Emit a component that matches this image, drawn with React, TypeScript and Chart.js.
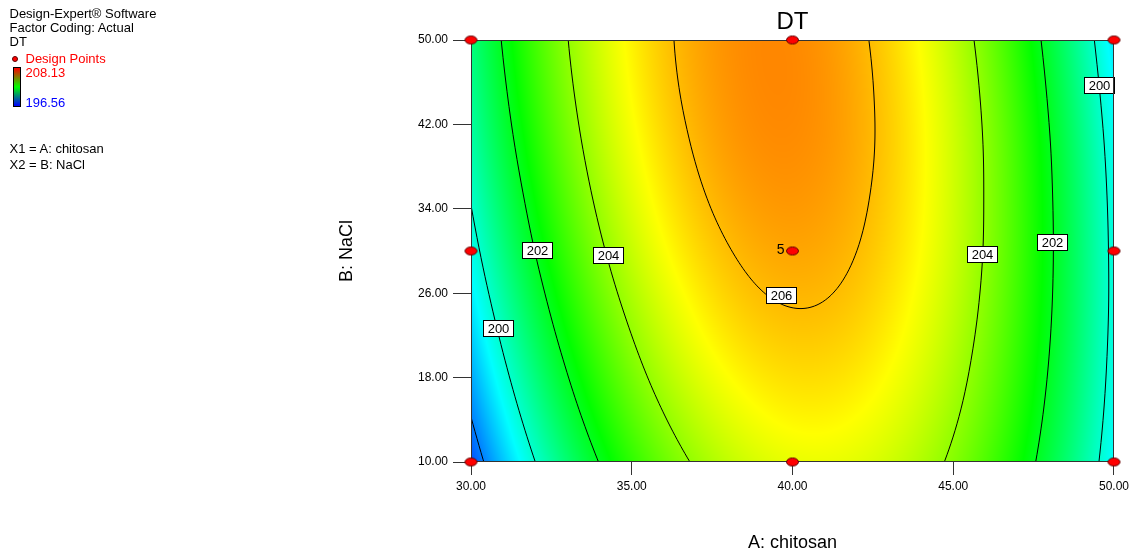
import React, { useEffect, useRef } from "react";
import { Chart, registerables } from "chart.js";

Chart.register(...registerables);

const FONT = '"Liberation Sans", Arial, Helvetica, sans-serif';

// ---- data ----
const chitosanNodes = [30, 32, 34, 36, 38, 40, 42, 44, 46, 48, 50];
const naclNodes = [10, 15, 20, 25, 30, 35, 40, 45, 50];
// DT response on the grid (rows: NaCl nodes, columns: chitosan nodes)
const dtGrid = [
  [197.45, 200.0, 202.03, 203.54, 204.52, 204.98, 204.92, 204.34, 203.23, 201.6, 199.45],
  [198.09, 200.6, 202.58, 204.04, 204.97, 205.39, 205.28, 204.65, 203.5, 201.82, 199.62],
  [198.67, 201.13, 203.06, 204.48, 205.37, 205.73, 205.58, 204.9, 203.7, 201.98, 199.73],
  [199.19, 201.6, 203.49, 204.85, 205.7, 206.02, 205.82, 205.09, 203.85, 202.08, 199.79],
  [199.65, 202.02, 203.86, 205.18, 205.97, 206.25, 206.0, 205.23, 203.94, 202.12, 199.78],
  [200.05, 202.37, 204.17, 205.44, 206.19, 206.42, 206.12, 205.3, 203.96, 202.1, 199.72],
  [200.4, 202.67, 204.42, 205.64, 206.35, 206.53, 206.19, 205.32, 203.94, 202.03, 199.6],
  [200.68, 202.91, 204.61, 205.79, 206.44, 206.58, 206.19, 205.28, 203.85, 201.89, 199.41],
  [200.91, 203.09, 204.74, 205.87, 206.48, 206.57, 206.14, 205.18, 203.7, 201.7, 199.17],
];
const colorRange = [196.56, 208.13];
const contourLevels = [198, 200, 202, 204, 206];
const contourLabelText = ["200", "202", "204", "206", "204", "202", "200"];
const contourLabelA = [30.84, 32.05, 34.26, 39.64, 45.89, 48.07, 49.53];
const contourLabelB = [22.7, 30.1, 29.6, 25.8, 29.7, 30.85, 45.7];
const designA = [30, 40, 50, 30, 40, 50, 30, 40, 50];
const designB = [10, 10, 10, 30, 30, 30, 50, 50, 50];
const designReps = [1, 1, 1, 1, 5, 1, 1, 1, 1];
const xTickValues = [30, 35, 40, 45, 50];
const yTickValues = [10, 18, 26, 34, 42, 50];
const legendHeader = ["Design-Expert\u00AE Software", "Factor Coding: Actual", "DT"];
const legendFactors = ["X1 = A: chitosan", "X2 = B: NaCl"];

// ---- helpers ----
function nodeSlope(nodes: number[], vals: number[], k: number): number {
  const n = nodes.length;
  if (k === 0) return (-3 * vals[0] + 4 * vals[1] - vals[2]) / (nodes[2] - nodes[0]);
  if (k === n - 1)
    return (3 * vals[n - 1] - 4 * vals[n - 2] + vals[n - 3]) / (nodes[n - 1] - nodes[n - 3]);
  return (vals[k + 1] - vals[k - 1]) / (nodes[k + 1] - nodes[k - 1]);
}

function smoothAt(nodes: number[], vals: number[], t: number): number {
  const n = nodes.length;
  let i = 0;
  while (i < n - 2 && t > nodes[i + 1]) i++;
  const x0 = nodes[i];
  const h = nodes[i + 1] - x0;
  let s = (t - x0) / h;
  if (s < 0) s = 0;
  if (s > 1) s = 1;
  const m0 = nodeSlope(nodes, vals, i) * h;
  const m1 = nodeSlope(nodes, vals, i + 1) * h;
  const s2 = s * s;
  const s3 = s2 * s;
  return (
    (2 * s3 - 3 * s2 + 1) * vals[i] +
    (s3 - 2 * s2 + s) * m0 +
    (-2 * s3 + 3 * s2) * vals[i + 1] +
    (s3 - s2) * m1
  );
}

const STOPS = [
  [0, 0, 255],
  [0, 255, 255],
  [0, 255, 0],
  [255, 255, 0],
  [255, 0, 0],
];
function colorFor(v: number): number[] {
  let t = (v - colorRange[0]) / (colorRange[1] - colorRange[0]);
  if (t < 0) t = 0;
  if (t > 1) t = 1;
  const p = t * (STOPS.length - 1);
  const k = Math.min(STOPS.length - 2, Math.floor(p));
  const f = p - k;
  const a = STOPS[k];
  const b = STOPS[k + 1];
  return [a[0] + (b[0] - a[0]) * f, a[1] + (b[1] - a[1]) * f, a[2] + (b[2] - a[2]) * f];
}

const surfacePlugin = {
  id: "surface",
  beforeDatasetsDraw(chart: any) {
    const { ctx, chartArea } = chart;
    const xs = chart.scales.x;
    const ys = chart.scales.y;
    const left = Math.round(chartArea.left);
    const top = Math.round(chartArea.top);
    const right = Math.round(chartArea.right);
    const bottom = Math.round(chartArea.bottom);
    const w = right - left;
    const h = bottom - top;

    const columnAt = (px: number) => {
      const a = xs.getValueForPixel(px);
      return dtGrid.map((row) => smoothAt(chitosanNodes, row, a));
    };

    // heat map
    const img = ctx.createImageData(w, h);
    const rowB: number[] = [];
    for (let j = 0; j < h; j++) rowB.push(ys.getValueForPixel(top + j + 0.5));
    for (let i = 0; i < w; i++) {
      const col = columnAt(left + i + 0.5);
      for (let j = 0; j < h; j++) {
        const v = smoothAt(naclNodes, col, rowB[j]);
        const c = colorFor(v);
        const idx = (j * w + i) * 4;
        img.data[idx] = c[0];
        img.data[idx + 1] = c[1];
        img.data[idx + 2] = c[2];
        img.data[idx + 3] = 255;
      }
    }
    ctx.putImageData(img, left, top);

    // contour lines
    const step = 2;
    const gx: number[] = [];
    for (let p = left; p < right; p += step) gx.push(p);
    gx.push(right);
    const gy: number[] = [];
    for (let p = top; p < bottom; p += step) gy.push(p);
    gy.push(bottom);
    const cols = gx.map((px) => columnAt(px));
    const bvals = gy.map((py) => ys.getValueForPixel(py));
    const vals = gy.map((_, j) => gx.map((__, i) => smoothAt(naclNodes, cols[i], bvals[j])));

    ctx.save();
    ctx.beginPath();
    ctx.rect(left, top, w, h);
    ctx.clip();
    ctx.beginPath();
    for (const L of contourLevels) {
      for (let j = 0; j < gy.length - 1; j++) {
        for (let i = 0; i < gx.length - 1; i++) {
          const v00 = vals[j][i];
          const v10 = vals[j][i + 1];
          const v01 = vals[j + 1][i];
          const v11 = vals[j + 1][i + 1];
          const pts: number[][] = [];
          if (v00 < L !== v10 < L)
            pts.push([gx[i] + ((gx[i + 1] - gx[i]) * (L - v00)) / (v10 - v00), gy[j]]);
          if (v10 < L !== v11 < L)
            pts.push([gx[i + 1], gy[j] + ((gy[j + 1] - gy[j]) * (L - v10)) / (v11 - v10)]);
          if (v01 < L !== v11 < L)
            pts.push([gx[i] + ((gx[i + 1] - gx[i]) * (L - v01)) / (v11 - v01), gy[j + 1]]);
          if (v00 < L !== v01 < L)
            pts.push([gx[i], gy[j] + ((gy[j + 1] - gy[j]) * (L - v00)) / (v01 - v00)]);
          if (pts.length >= 2) {
            ctx.moveTo(pts[0][0], pts[0][1]);
            ctx.lineTo(pts[1][0], pts[1][1]);
            if (pts.length === 4) {
              ctx.moveTo(pts[2][0], pts[2][1]);
              ctx.lineTo(pts[3][0], pts[3][1]);
            }
          }
        }
      }
    }
    ctx.strokeStyle = "#000";
    ctx.lineWidth = 1;
    ctx.stroke();
    ctx.restore();

    // contour labels
    ctx.save();
    ctx.font = `13px ${FONT}`;
    ctx.textAlign = "center";
    ctx.textBaseline = "middle";
    for (let k = 0; k < contourLabelText.length; k++) {
      const px = xs.getPixelForValue(contourLabelA[k]);
      const py = ys.getPixelForValue(contourLabelB[k]);
      const tw = ctx.measureText(contourLabelText[k]).width;
      const bw = Math.round(tw + 8);
      const bh = 16;
      const bx = Math.round(px - bw / 2) + 0.5;
      const by = Math.round(py - bh / 2) + 0.5;
      ctx.fillStyle = "#fff";
      ctx.fillRect(bx, by, bw, bh);
      ctx.strokeStyle = "#000";
      ctx.lineWidth = 1;
      ctx.strokeRect(bx, by, bw, bh);
      ctx.fillStyle = "#000";
      ctx.fillText(contourLabelText[k], bx + bw / 2, by + bh / 2 + 0.5);
    }
    ctx.restore();

    // frame
    ctx.save();
    ctx.strokeStyle = "#333";
    ctx.lineWidth = 1;
    ctx.strokeRect(left + 0.5, top + 0.5, w - 1, h - 1);
    ctx.restore();

    // replicate counts
    ctx.save();
    ctx.font = `14px ${FONT}`;
    ctx.textAlign = "right";
    ctx.textBaseline = "middle";
    ctx.fillStyle = "#000";
    for (let k = 0; k < designA.length; k++) {
      if (designReps[k] > 1) {
        const px = xs.getPixelForValue(designA[k]);
        const py = ys.getPixelForValue(designB[k]);
        ctx.fillText(String(designReps[k]), px - 8, py - 1);
      }
    }
    ctx.restore();
  },
};

function makeMarker(): HTMLCanvasElement {
  const c = document.createElement("canvas");
  c.width = 15;
  c.height = 11;
  const g = c.getContext("2d")!;
  g.beginPath();
  g.ellipse(7.5, 5.5, 6, 4, 0, 0, Math.PI * 2);
  g.fillStyle = "#ff0000";
  g.fill();
  g.strokeStyle = "#5a0000";
  g.lineWidth = 1;
  g.stroke();
  return c;
}

export default function App() {
  const ref = useRef<HTMLCanvasElement | null>(null);

  useEffect(() => {
    if (!ref.current) return;
    const marker = makeMarker();
    const tickFmt = (v: any) => Number(v).toFixed(2);
    const chart = new Chart(ref.current, {
      type: "scatter",
      data: {
        datasets: [
          {
            data: designA.map((a, i) => ({ x: a, y: designB[i] })),
            pointStyle: marker as any,
            pointRadius: 6,
            pointHoverRadius: 6,
            clip: false as any,
          },
        ],
      },
      plugins: [surfacePlugin],
      options: {
        animation: false,
        responsive: false,
        maintainAspectRatio: false,
        events: [],
        layout: { padding: { left: 300, right: 19, top: 0, bottom: 0 } },
        plugins: {
          legend: { display: false },
          tooltip: { enabled: false },
          title: {
            display: true,
            text: "DT",
            fullSize: false,
            color: "#000",
            font: { family: FONT, size: 24, weight: "normal" },
            padding: { top: 8, bottom: 3.2 },
          },
        },
        scales: {
          x: {
            type: "linear",
            min: 30,
            max: 50,
            afterBuildTicks: (s: any) => {
              s.ticks = xTickValues.map((v) => ({ value: v }));
            },
            afterFit: (s: any) => {
              s.height = 94;
            },
            ticks: {
              callback: tickFmt,
              color: "#000",
              font: { family: FONT, size: 12 },
              padding: 4,
              maxRotation: 0,
              autoSkip: false,
            },
            grid: { drawOnChartArea: false, drawTicks: true, tickLength: 13, color: "#333" },
            border: { display: false },
            title: {
              display: true,
              text: "A: chitosan",
              color: "#000",
              font: { family: FONT, size: 18 },
              padding: { top: 0, bottom: 2.2 },
            },
          },
          y: {
            type: "linear",
            min: 10,
            max: 50,
            afterBuildTicks: (s: any) => {
              s.ticks = yTickValues.map((v) => ({ value: v }));
            },
            afterFit: (s: any) => {
              s.width = 171;
            },
            ticks: {
              callback: tickFmt,
              color: "#000",
              font: { family: FONT, size: 12 },
              padding: 5,
              autoSkip: false,
            },
            grid: { drawOnChartArea: false, drawTicks: true, tickLength: 18, color: "#333" },
            border: { display: false },
            title: {
              display: true,
              text: "B: NaCl",
              color: "#000",
              font: { family: FONT, size: 18 },
              padding: { top: 36.2, bottom: 0 },
            },
          },
        },
      } as any,
    });
    return () => chart.destroy();
  }, []);

  const txt = (top: number, left: number, color = "#000"): React.CSSProperties => ({
    position: "absolute",
    top,
    left,
    fontSize: 13,
    lineHeight: "15px",
    color,
    whiteSpace: "nowrap",
  });

  return (
    <div
      style={{
        position: "fixed",
        left: 0,
        top: 0,
        width: 1133,
        height: 556,
        background: "#fff",
        fontFamily: FONT,
        overflow: "hidden",
      }}
    >
      <canvas ref={ref} width={1133} height={556} style={{ position: "absolute", left: 0, top: 0 }} />
      <div style={txt(5.5, 9.5)}>{legendHeader[0]}</div>
      <div style={txt(19.8, 9.5)}>{legendHeader[1]}</div>
      <div style={txt(34.3, 9.5)}>{legendHeader[2]}</div>
      <div
        style={{
          position: "absolute",
          left: 12.3,
          top: 55.5,
          width: 6,
          height: 6,
          borderRadius: "50%",
          background: "#ff0000",
          border: "1px solid #5a0000",
          boxSizing: "border-box",
        }}
      />
      <div style={txt(50.5, 25.5, "#ff0000")}>Design Points</div>
      <div
        style={{
          position: "absolute",
          left: 13,
          top: 67,
          width: 8,
          height: 40,
          border: "1px solid #000",
          boxSizing: "border-box",
          background: "linear-gradient(to bottom, #ff0000, #00ff00, #0000ff)",
        }}
      />
      <div style={txt(65.3, 25.5, "#ff0000")}>{colorRange[1].toFixed(2)}</div>
      <div style={txt(94.7, 25.5, "#0000ff")}>{colorRange[0].toFixed(2)}</div>
      <div style={txt(140.7, 9.5)}>{legendFactors[0]}</div>
      <div style={txt(156.5, 9.5)}>{legendFactors[1]}</div>
    </div>
  );
}
